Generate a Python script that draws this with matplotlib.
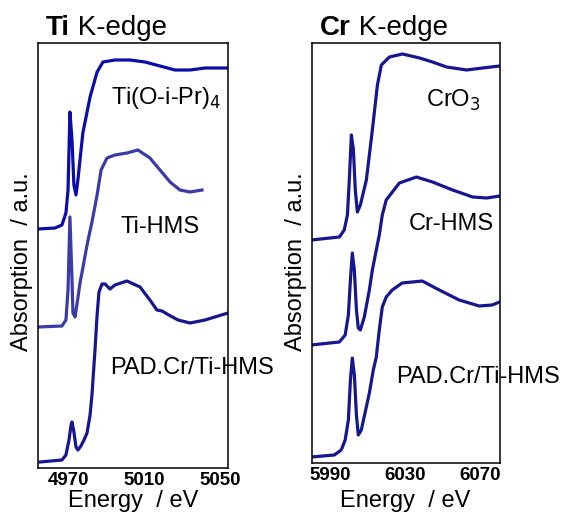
import matplotlib
matplotlib.use('Agg')
import matplotlib.pyplot as plt

plt.rcParams['font.family'] = ['Liberation Sans', 'DejaVu Sans']

# Ti K-edge spectra (energy in eV, absorption in a.u. incl. offset)
ti_tiopr_e = [4954.2, 4963.1, 4966.8, 4968.9, 4970.0, 4971.0, 4972.1, 4973.1, 4974.2,
              4975.2, 4976.3, 4977.8, 4981.6, 4985.3, 4988.4, 4994.7, 5002.6, 5010.5,
              5018.4, 5026.3, 5034.2, 5042.1, 5054.2]
ti_tiopr_a = [2.39, 2.40, 2.43, 2.55, 2.78, 3.56, 3.28, 2.83, 2.73,
              2.88, 3.08, 3.35, 3.71, 3.96, 4.06, 4.08, 4.08, 4.06,
              4.02, 3.98, 3.98, 4.00, 4.00]

ti_hms_e = [4954.2, 4966.8, 4968.9, 4970.0, 4971.0, 4972.1, 4972.6, 4973.7, 4975.2,
            4976.3, 4977.9, 4980.0, 4982.6, 4985.3, 4987.4, 4990.5, 4994.7, 5001.0,
            5006.8, 5013.1, 5018.4, 5023.7, 5028.9, 5034.2, 5040.5]
ti_hms_a = [1.41, 1.42, 1.48, 1.78, 2.51, 1.88, 1.55, 1.51, 1.70,
            1.85, 2.01, 2.23, 2.46, 2.73, 2.98, 3.10, 3.13, 3.15,
            3.18, 3.10, 2.98, 2.86, 2.78, 2.76, 2.78]

ti_pad_e = [4955.3, 4966.8, 4968.9, 4970.5, 4971.6, 4972.1, 4973.1, 4974.2, 4975.2,
            4976.8, 4978.4, 4980.0, 4981.6, 4982.6, 4984.2, 4985.3, 4986.3, 4987.9,
            4989.5, 4992.1, 4994.7, 5001.0, 5007.9, 5013.1, 5016.8, 5019.5, 5022.1,
            5027.9, 5034.2, 5042.1, 5054.2]
ti_pad_a = [0.06, 0.08, 0.13, 0.28, 0.43, 0.46, 0.36, 0.21, 0.18,
            0.22, 0.28, 0.35, 0.53, 0.73, 1.18, 1.53, 1.76, 1.84,
            1.84, 1.79, 1.83, 1.87, 1.81, 1.68, 1.58, 1.57, 1.54,
            1.48, 1.45, 1.48, 1.55]

# Cr K-edge spectra
cr_cro3_e = [5980.0, 5995.0, 5997.6, 5999.3, 6000.3, 6001.4, 6002.5, 6003.5, 6004.6,
             6006.2, 6009.4, 6012.6, 6015.3, 6017.4, 6021.7, 6028.7, 6037.8, 6044.7,
             6052.2, 6062.9, 6071.4, 6080.5]
cr_cro3_a = [2.23, 2.26, 2.33, 2.48, 2.83, 3.28, 3.13, 2.73, 2.51,
             2.58, 2.83, 3.33, 3.78, 3.98, 4.06, 4.09, 4.05, 4.01,
             3.96, 3.93, 3.95, 3.97]

cr_hms_e = [5980.0, 5995.0, 5998.1, 5999.8, 6000.9, 6001.9, 6003.0, 6004.1, 6005.1,
            6006.2, 6008.3, 6011.0, 6012.6, 6014.7, 6016.3, 6017.9, 6020.0, 6027.0,
            6036.1, 6044.7, 6055.4, 6066.1, 6073.6, 6080.5]
cr_hms_a = [1.18, 1.21, 1.28, 1.48, 1.83, 2.10, 1.93, 1.53, 1.35,
            1.33, 1.46, 1.73, 1.93, 2.13, 2.28, 2.48, 2.63, 2.80,
            2.86, 2.81, 2.73, 2.66, 2.65, 2.67]

cr_pad_e = [5980.0, 5992.3, 5996.0, 5998.1, 5999.8, 6000.9, 6001.9, 6003.0, 6004.1,
            6005.1, 6006.7, 6008.8, 6011.0, 6013.1, 6014.7, 6016.3, 6017.9, 6020.0,
            6023.2, 6028.5, 6039.2, 6048.3, 6058.9, 6069.6, 6076.5, 6080.5]
cr_pad_a = [0.06, 0.08, 0.13, 0.23, 0.43, 0.83, 1.05, 0.88, 0.48,
            0.28, 0.33, 0.51, 0.70, 0.93, 1.06, 1.33, 1.56, 1.66,
            1.73, 1.80, 1.82, 1.73, 1.63, 1.57, 1.58, 1.61]

ti_ticks = [4970, 5010, 5050]
cr_ticks = [5990, 6030, 6070]

W, H = 565, 514
fig = plt.figure(figsize=(W / 100, H / 100), dpi=100)


def px_axes(x0, y0, x1, y1):
    return fig.add_axes([x0 / W, 1 - y1 / H, (x1 - x0) / W, (y1 - y0) / H])


ax1 = px_axes(38, 43, 228, 468)
ax2 = px_axes(312, 43, 500, 463)

navy = '#16168e'
lw = 2.3
ax1.plot(ti_tiopr_e, ti_tiopr_a, color='#0c0caa', lw=lw)
ax1.plot(ti_hms_e, ti_hms_a, color='#3b3ba6', lw=lw)
ax1.plot(ti_pad_e, ti_pad_a, color=navy, lw=lw)
ax1.set_xlim(4954.2, 5054.2)
ax1.set_ylim(0, 4.25)

ax2.plot(cr_cro3_e, cr_cro3_a, color=navy, lw=lw)
ax2.plot(cr_hms_e, cr_hms_a, color=navy, lw=lw)
ax2.plot(cr_pad_e, cr_pad_a, color=navy, lw=lw)
ax2.set_xlim(5980.4, 6080.7)
ax2.set_ylim(0, 4.20)

for ax, ticks in [(ax1, ti_ticks), (ax2, cr_ticks)]:
    ax.set_xticks(ticks)
    ax.set_xticklabels([str(t) for t in ticks], fontsize=13.5, fontweight='bold')
    ax.set_yticks([])
    ax.tick_params(axis='x', length=0, pad=3)
    for s in ax.spines.values():
        s.set_linewidth(1.1)

# curve labels
fs = 17
fig.text(166 / W, 1 - 98 / H, 'Ti(O-i-Pr)$_4$', ha='center', va='center', fontsize=fs)
fig.text(160 / W, 1 - 227 / H, 'Ti-HMS', ha='center', va='center', fontsize=fs)
fig.text(110 / W, 1 - 368 / H, 'PAD.Cr/Ti-HMS', ha='left', va='center', fontsize=fs)
fig.text(453 / W, 1 - 100 / H, 'CrO$_3$', ha='center', va='center', fontsize=fs)
fig.text(451 / W, 1 - 224 / H, 'Cr-HMS', ha='center', va='center', fontsize=fs)
fig.text(396 / W, 1 - 377 / H, 'PAD.Cr/Ti-HMS', ha='left', va='center', fontsize=fs)

# titles: bold element + regular text
for x0, el in [(46, 'Ti'), (320, 'Cr')]:
    t = fig.text(x0 / W, 1 - 35 / H, el, fontsize=20, fontweight='bold', ha='left', va='baseline')
    ax1.annotate(' K-edge', xy=(1, 0), xycoords=t, fontsize=20, ha='left', va='bottom',
                 annotation_clip=False)

# axis labels
for xc in [22, 296]:
    fig.text(xc / W, 1 - 262 / H, 'Absorption  / a.u.', rotation=90, ha='center', va='center', fontsize=17)
for xc in [133, 405]:
    fig.text(xc / W, 1 - 501 / H, 'Energy  / eV', ha='center', va='center', fontsize=17)

fig.savefig('out.png', dpi=100)
